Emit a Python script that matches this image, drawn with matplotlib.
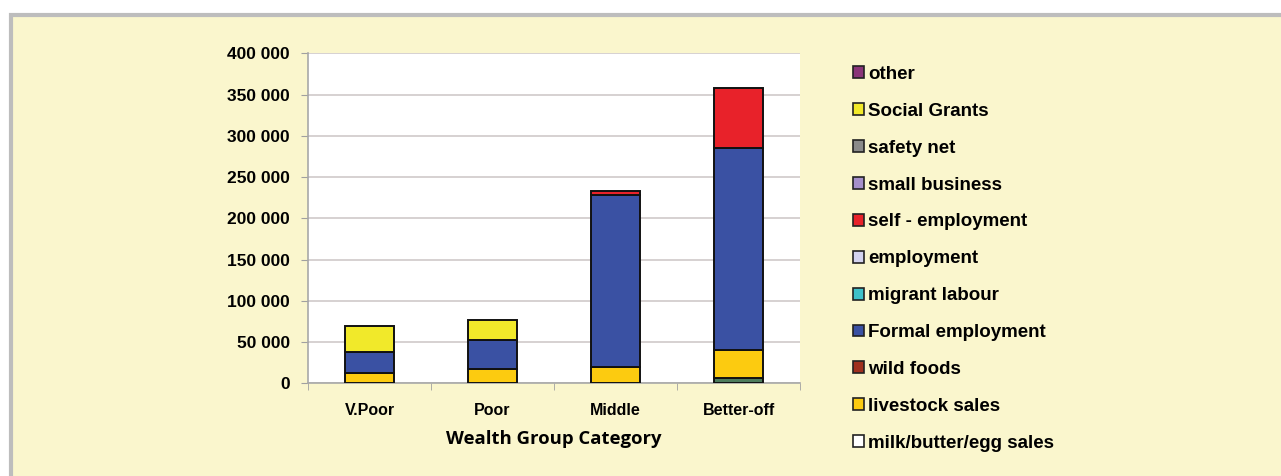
import matplotlib
matplotlib.use("Agg")
import matplotlib.pyplot as plt
from matplotlib.patches import Rectangle, Patch
import numpy as np

categories = ["V.Poor", "Poor", "Middle", "Better-off"]

# series in stacking order (bottom -> top)
milk = [0, 0, 0, 6000]
livestock = [13000, 17000, 20000, 34500]
wild_foods = [0, 0, 0, 0]
formal = [25500, 35500, 208000, 244500]
migrant = [0, 0, 0, 0]
employment = [0, 0, 0, 0]
self_emp = [0, 0, 5500, 73000]
small_business = [0, 0, 0, 0]
safety_net = [0, 0, 0, 0]
social_grants = [31000, 24000, 0, 0]
other = [0, 0, 0, 0]

series_names = ["milk/butter/egg sales", "livestock sales", "wild foods",
                "Formal employment", "migrant labour", "employment",
                "self - employment", "small business", "safety net",
                "Social Grants", "other"]
series_vals = [milk, livestock, wild_foods, formal, migrant, employment,
               self_emp, small_business, safety_net, social_grants, other]
bar_colors = ["#4D7C5C", "#FCCB10", "#A0301E", "#3A51A3", "#3EC1C9", "#D3D3EF",
              "#E8222A", "#A58FCB", "#8A8A8A", "#F1E92A", "#8A3579"]
legend_colors = ["#FFFFFF"] + bar_colors[1:]

yticks = [0, 50000, 100000, 150000, 200000, 250000, 300000, 350000, 400000]

W, H = 1281, 476
fig = plt.figure(figsize=(W / 100, H / 100), dpi=100)
fig.patch.set_facecolor("white")
bg = "#FAF6CD"
fig.patches.append(Rectangle((11 / W, -0.1), 1.2, 1 - 15 / H + 0.1,
                             transform=fig.transFigure, facecolor=bg,
                             edgecolor="#BDBDBD", linewidth=3, zorder=-5))

ax = fig.add_axes([308 / W, 1 - 383.3 / H, 492 / W, 330 / H])
ax.set_facecolor("white")
x = np.arange(len(categories))
bottom = np.zeros(len(categories))
for name, vals, c in zip(series_names, series_vals, bar_colors):
    v = np.array(vals, dtype=float)
    ax.bar(x, v, bottom=bottom, width=0.4, color=c, edgecolor="#111111",
           linewidth=1.4 * (v > 0), zorder=3)
    bottom += v

ax.set_xlim(-0.5, len(categories) - 0.5)
ax.set_ylim(0, 400000)
ax.set_yticks(yticks)
ax.set_yticklabels([f"{t:,}".replace(",", " ") for t in yticks],
                   fontsize=12.5, fontweight="bold", family="Liberation Sans")
ax.set_xticks(x)
ax.set_xticklabels(categories, fontsize=11.5, fontweight="bold", family="Liberation Sans")
ax.tick_params(axis="x", length=0, pad=14)
ax.set_xticks(np.arange(-0.5, len(categories)), minor=True)
ax.tick_params(axis="x", which="minor", length=5, color="#A0A0A0", direction="out")
ax.tick_params(axis="y", length=5, color="#A0A0A0", pad=8)
ax.grid(axis="y", color="#CFCACA", linewidth=1.2, zorder=0)
for s in ["top", "right"]:
    ax.spines[s].set_visible(False)
for s in ["left", "bottom"]:
    ax.spines[s].set_color("#A8A8A8")
    ax.spines[s].set_linewidth(1.2)
ax.set_xlabel("Wealth Group Category", fontsize=13.3, fontweight="bold",
              family="Open Sans", labelpad=9)

handles = [Patch(facecolor=c, edgecolor="#222222", linewidth=1.2, label=n)
           for n, c in zip(series_names, legend_colors)][::-1]
leg = fig.legend(handles=handles, loc="upper left",
                 bbox_to_anchor=(853 / W, 1 - 66 / H), frameon=False,
                 prop={"family": "Liberation Sans", "weight": "bold", "size": 13.5},
                 handlelength=0.6, handleheight=0.6, handletextpad=0.2,
                 labelspacing=1.06, borderpad=0, borderaxespad=0)

fig.savefig("out.png", dpi=100, facecolor=fig.get_facecolor())
